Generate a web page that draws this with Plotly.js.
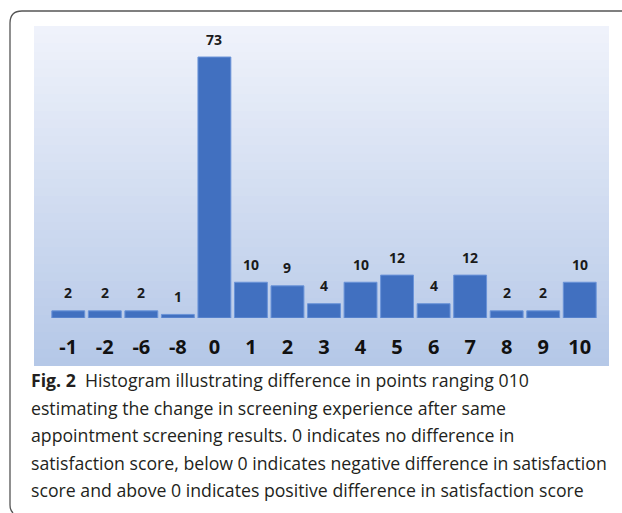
<!DOCTYPE html>
<html>
<head>
<meta charset="utf-8">
<script src="https://cdn.plot.ly/plotly-3.0.1.min.js"></script>
<style>html,body{margin:0;padding:0;background:#fff;}#chart{width:622px;height:513px;}</style>
</head>
<body>
<div id="chart"></div>
<script>
// Data
const categories = ["-1", "-2", "-6", "-8", "0", "1", "2", "3", "4", "5", "6", "7", "8", "9", "10"];
const counts = [2, 2, 2, 1, 73, 10, 9, 4, 10, 12, 4, 12, 2, 2, 10];
const captionLines = [
  "<b>Fig. 2</b>  Histogram illustrating difference in points ranging 010",
  "estimating the change in screening experience after same",
  "appointment screening results. 0 indicates no difference in",
  "satisfaction score, below 0 indicates negative difference in satisfaction",
  "score and above 0 indicates positive difference in satisfaction score"
];

// Geometry helpers (pixel -> paper)
const W = 622, H = 513;
const M = {l: 50, r: 24, t: 32, b: 195};
const PW = W - M.l - M.r, PH = H - M.t - M.b;
const px = x => (x - M.l) / PW;
const py = y => (H - M.b - y) / PH;

// Background gradient panel (decoration)
const shapes = [];
const bgTop = 26, bgBot = 366, bgL = 34, bgR = 609, steps = 40;
const c0 = [240, 243, 251], c1 = [180, 199, 231];
for (let i = 0; i < steps; i++) {
  const t = (i + 0.5) / steps;
  const c = c0.map((v, k) => Math.round(v + (c1[k] - v) * t));
  const y0 = bgTop + (bgBot - bgTop) * i / steps;
  const y1 = bgTop + (bgBot - bgTop) * (i + 1) / steps + 0.6;
  shapes.push({type: 'rect', xref: 'paper', yref: 'paper', layer: 'below',
    x0: px(bgL), x1: px(bgR), y0: py(Math.min(y1, bgBot)), y1: py(y0),
    fillcolor: `rgb(${c[0]},${c[1]},${c[2]})`, line: {width: 0}});
}
// Frame (top and left border with rounded corner)
const fp = (x, y) => `${px(x)},${py(y)}`;
shapes.push({type: 'path', xref: 'paper', yref: 'paper', layer: 'above',
  path: `M ${fp(622, 11)} L ${fp(22, 11)} Q ${fp(10, 11)} ${fp(10, 23)} L ${fp(10, 505)} Q ${fp(10, 510)} ${fp(13, 513)}`,
  line: {color: '#555555', width: 1.3}});

// Value labels (positioned by category index on the category axis)
const annotations = categories.map((c, i) => ({
  x: i, y: counts[i], xref: 'x', yref: 'y', text: String(counts[i]),
  showarrow: false, yanchor: 'middle', yshift: 18,
  font: {family: 'Open Sans, sans-serif', size: 14, color: '#1a1a1a', weight: 'bold'}
}));
// Caption
captionLines.forEach((t, i) => {
  annotations.push({xref: 'paper', yref: 'paper', x: px(29), y: py(380 + i * 27.5),
    xanchor: 'left', yanchor: 'middle', showarrow: false, align: 'left', text: t,
    font: {family: 'Open Sans, sans-serif', size: 17.7, color: '#231f20'}});
});

const trace = {
  type: 'bar', x: categories, y: counts,
  marker: {color: '#4170c0', line: {color: '#6a93d8', width: 1}},
  hoverinfo: 'none'
};

const layout = {
  width: W, height: H, margin: M,
  paper_bgcolor: 'rgba(0,0,0,0)', plot_bgcolor: 'rgba(0,0,0,0)',
  showlegend: false, bargap: 0.1,
  xaxis: {type: 'category', range: [-0.5, categories.length - 0.5], autorange: false,
    showgrid: false, zeroline: false, showline: false, ticks: '',
    ticklabelstandoff: 15,
    tickfont: {family: 'Open Sans, sans-serif', size: 20, color: '#111', weight: 'bold'}},
  yaxis: {range: [0, 80], autorange: false, visible: false, showgrid: false, zeroline: false},
  shapes: shapes, annotations: annotations
};

Plotly.newPlot('chart', [trace], layout, {staticPlot: true, displayModeBar: false});
</script>
</body>
</html>
